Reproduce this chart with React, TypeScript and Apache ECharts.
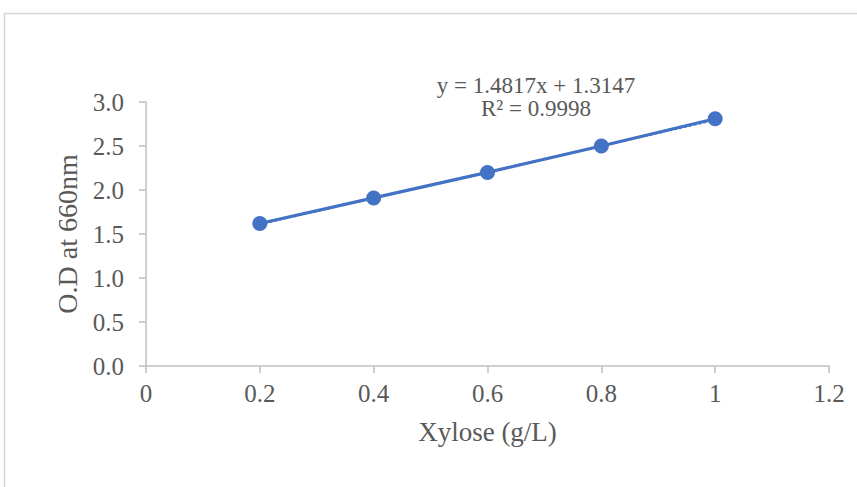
import React, { useEffect, useRef } from "react";
import * as echarts from "echarts";

const xValues = [0.2, 0.4, 0.6, 0.8, 1.0];
const odValues = [1.62, 1.91, 2.2, 2.5, 2.81];
const trendSlope = 1.4817;
const trendIntercept = 1.3147;
const trendXs = [0.2, 1.0];
const equationLines = ["y = 1.4817x + 1.3147", "R² = 0.9998"];
const xAxisTitle = "Xylose (g/L)";
const yAxisTitle = "O.D at 660nm";

const FONT = "'Liberation Serif', 'Times New Roman', serif";
const TEXT = "#595959";
const AXIS = "#bfbfbf";
const BLUE = "#4472C4";

export default function App() {
  const ref = useRef<HTMLDivElement>(null);
  useEffect(() => {
    if (!ref.current) return;
    const chart = echarts.init(ref.current, undefined, { renderer: "svg" });
    const points = xValues.map((x, i) => [x, odValues[i]]);
    const trend = trendXs.map((x) => [x, trendSlope * x + trendIntercept]);
    chart.setOption({
      animation: false,
      backgroundColor: "#ffffff",
      grid: { left: 146, right: 28, top: 102, bottom: 121, containLabel: false },
      xAxis: {
        type: "value",
        min: 0,
        max: 1.2,
        interval: 0.2,
        name: xAxisTitle,
        nameLocation: "middle",
        nameGap: 52,
        nameTextStyle: { color: TEXT, fontFamily: FONT, fontSize: 27 },
        axisLine: { show: true, lineStyle: { color: AXIS, width: 1.5 } },
        axisTick: { show: true, length: 7, lineStyle: { color: AXIS, width: 1.5 } },
        splitLine: { show: false },
        axisLabel: {
          color: TEXT,
          fontFamily: FONT,
          fontSize: 25,
          margin: 15,
          formatter: (v: number) => String(parseFloat(v.toFixed(1))),
        },
      },
      yAxis: {
        type: "value",
        min: 0,
        max: 3,
        interval: 0.5,
        name: yAxisTitle,
        nameLocation: "middle",
        nameGap: 58,
        nameTextStyle: { color: TEXT, fontFamily: FONT, fontSize: 28 },
        axisLine: { show: true, lineStyle: { color: AXIS, width: 1.5 } },
        axisTick: { show: true, length: 7, lineStyle: { color: AXIS, width: 1.5 } },
        splitLine: { show: false },
        axisLabel: {
          color: TEXT,
          fontFamily: FONT,
          fontSize: 25,
          margin: 22,
          formatter: (v: number) => v.toFixed(1),
        },
      },
      graphic: [
        {
          type: "rect",
          shape: { x: 4.5, y: 13.5, width: 870, height: 500 },
          style: { fill: "none", stroke: "#d6d6d6", lineWidth: 1.5 },
          silent: true,
        },
        {
          type: "text",
          x: 536,
          y: 85,
          style: {
            text: equationLines[0],
            fill: TEXT,
            font: `23px ${FONT}`,
            align: "center",
            verticalAlign: "middle",
          },
        },
        {
          type: "text",
          x: 536,
          y: 108,
          style: {
            text: equationLines[1],
            fill: TEXT,
            font: `23px ${FONT}`,
            align: "center",
            verticalAlign: "middle",
          },
        },
      ],
      series: [
        {
          type: "line",
          data: points,
          symbol: "circle",
          symbolSize: 15,
          lineStyle: { color: BLUE, width: 3.2 },
          itemStyle: { color: BLUE },
          z: 3,
        },
        {
          type: "line",
          data: trend,
          symbol: "none",
          lineStyle: { color: BLUE, width: 2, type: [3, 2] },
          z: 4,
        },
      ],
    });
    return () => chart.dispose();
  }, []);
  return (
    <div
      ref={ref}
      style={{ position: "absolute", left: 0, top: 0, width: 857, height: 487 }}
    />
  );
}
